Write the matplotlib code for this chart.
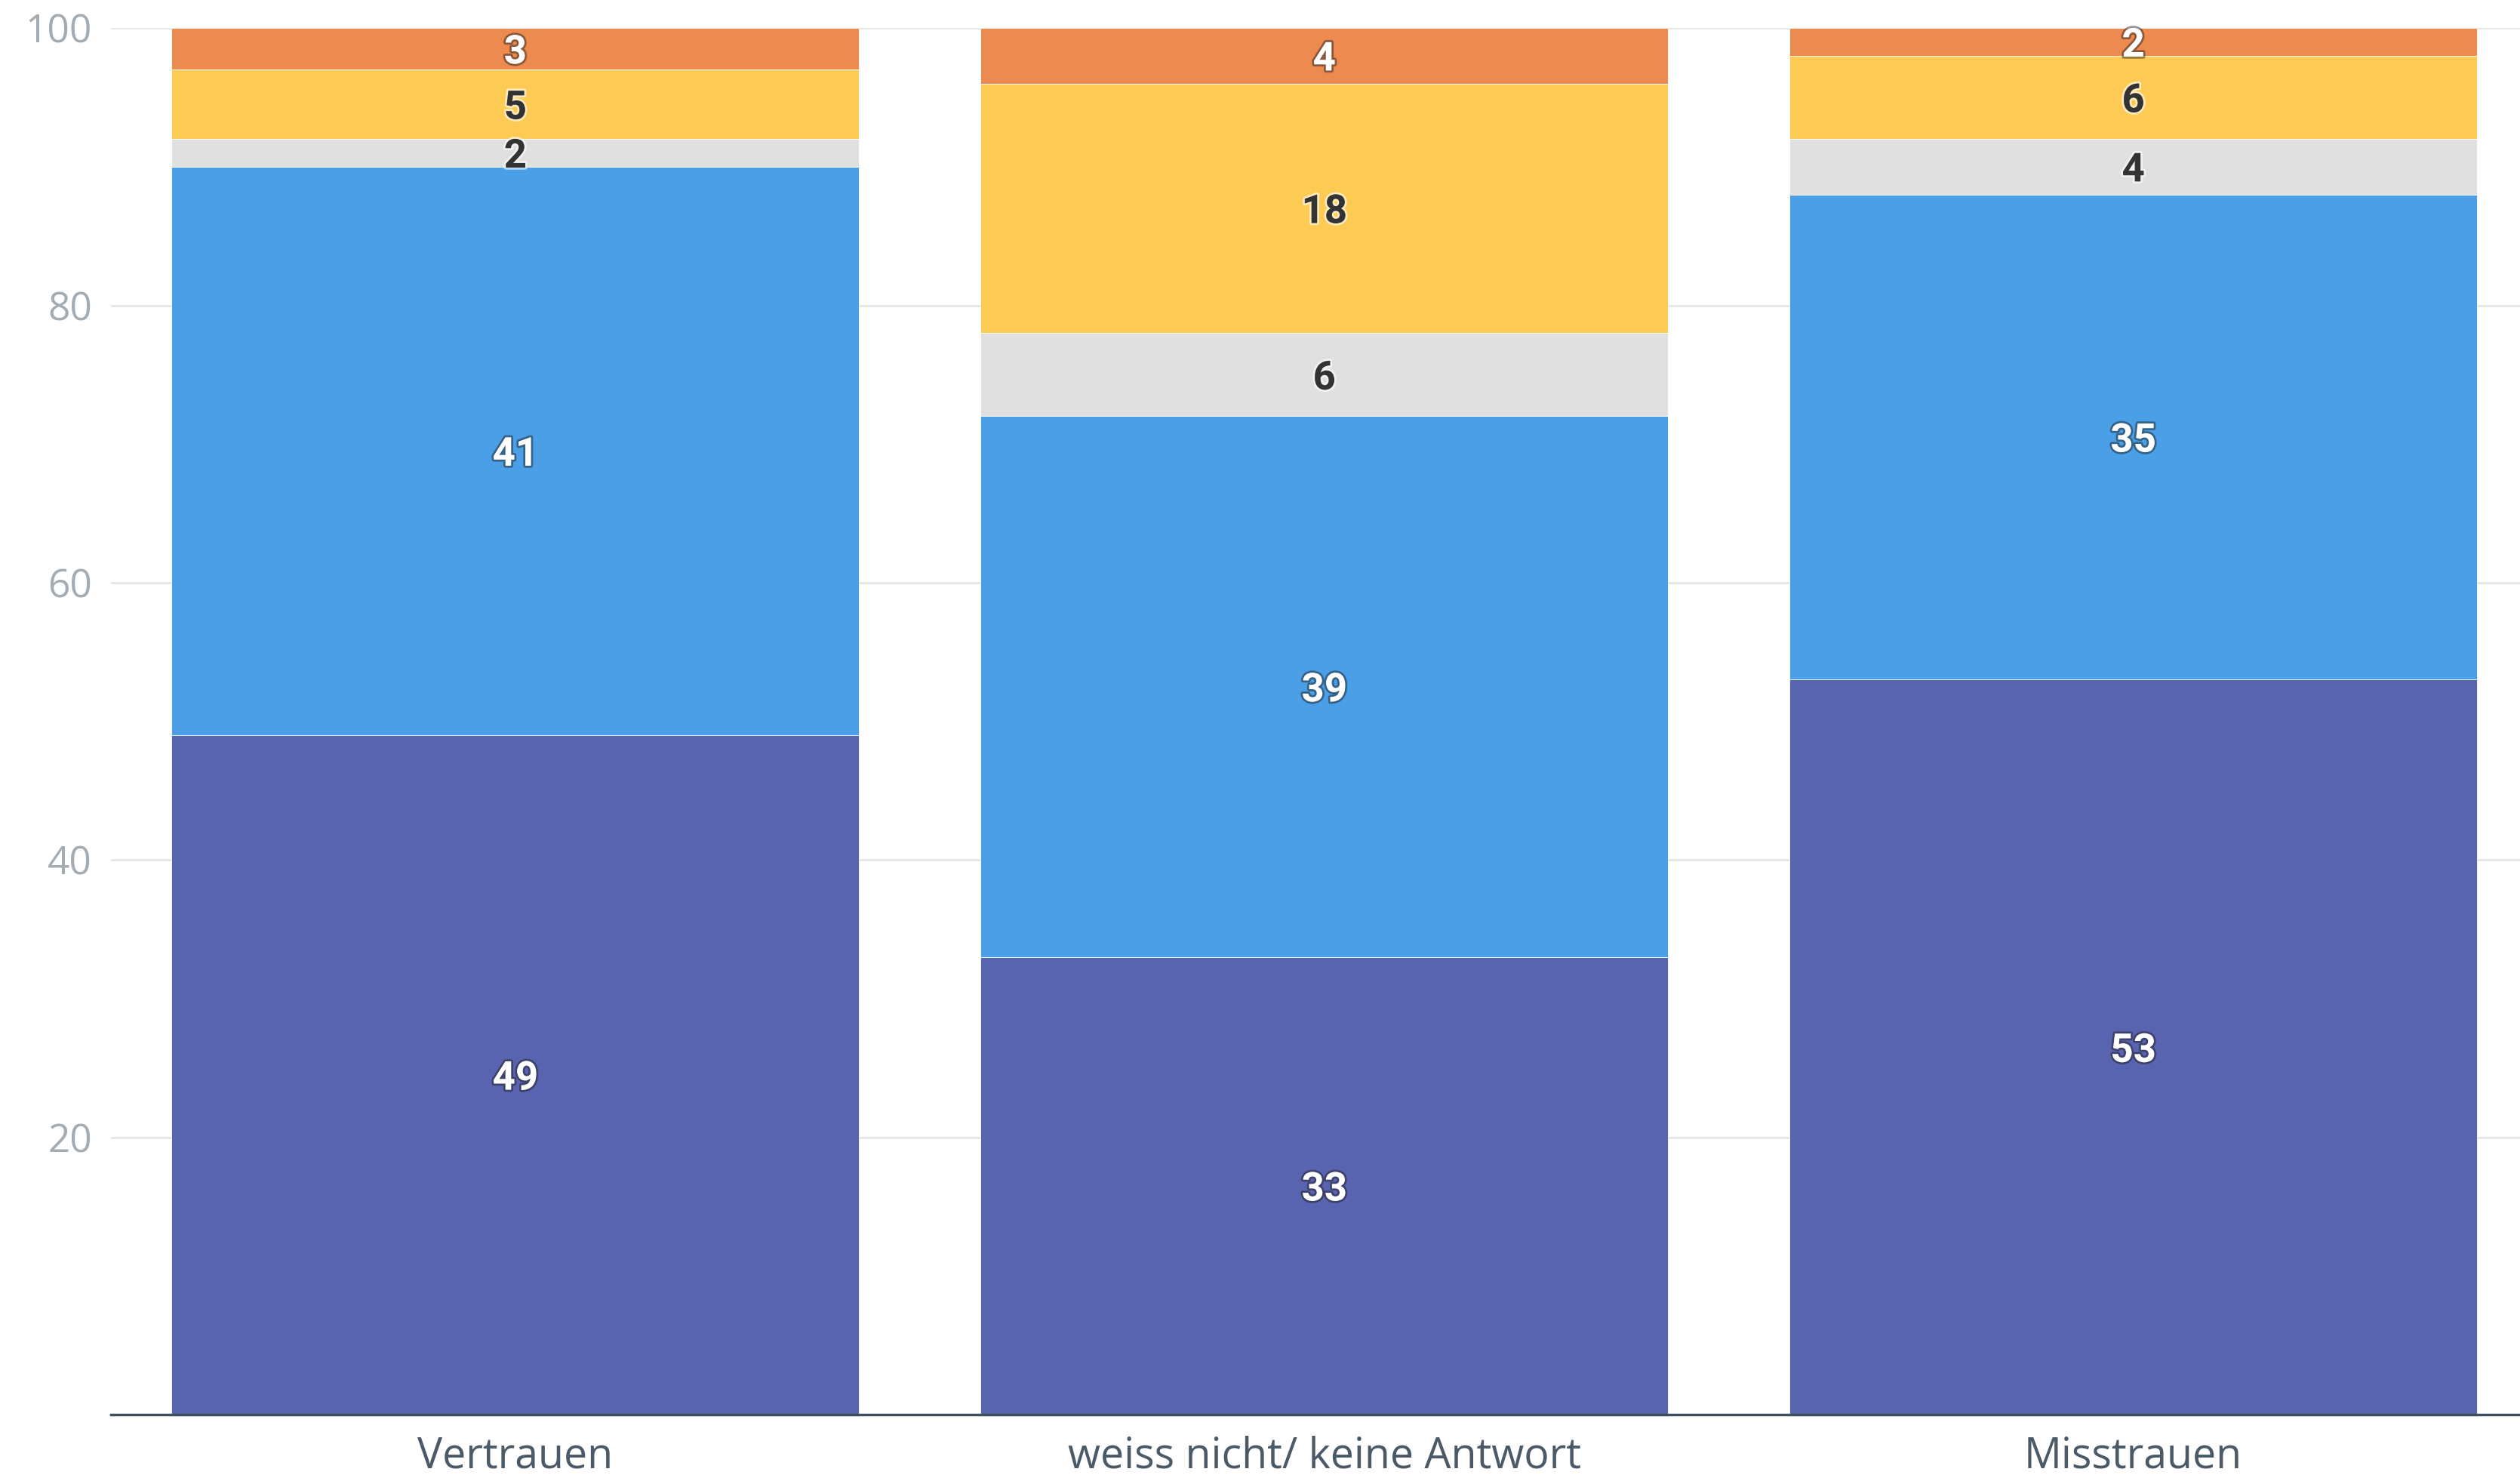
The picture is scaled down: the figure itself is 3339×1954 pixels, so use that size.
import matplotlib
matplotlib.use("Agg")
import matplotlib.pyplot as plt
import matplotlib.patheffects as pe
import matplotlib.transforms as mtransforms
import numpy as np

categories = ["Vertrauen", "weiss nicht/ keine Antwort", "Misstrauen"]
# series from bottom to top
s1 = [49, 33, 53]
s2 = [41, 39, 35]
s3 = [2, 6, 4]
s4 = [5, 18, 6]
s5 = [3, 4, 2]
series = [s1, s2, s3, s4, s5]
colors = ["#5964b0", "#4a9fe6", "#e0e0e0", "#fdcb54", "#ed8a4f"]
label_dark = [False, False, True, True, False]
yticks = [20, 40, 60, 80, 100]

fig = plt.figure(figsize=(33.39, 19.54), dpi=100)
ax = fig.add_axes([0.044, 0.0409, 0.956, 0.9401])
x = np.arange(len(categories))
bottom = np.zeros(len(categories))
shift = mtransforms.offset_copy(ax.transData, fig=fig, x=0, y=-5, units="dots")
for vals, col, dark in zip(series, colors, label_dark):
    vals = np.array(vals, dtype=float)
    ax.bar(x, vals, bottom=bottom, width=0.85, color=col, edgecolor="white",
           linewidth=0.6, zorder=3)
    for xi, b, v in zip(x, bottom, vals):
        if dark:
            t = ax.text(xi, b + v / 2, f"{int(v)}", ha="center", va="center",
                        fontsize=38, fontweight="bold", color="#333333",
                        family=["Roboto", "DejaVu Sans"], zorder=5, transform=shift)
            t.set_path_effects([pe.withStroke(linewidth=4, foreground=(1, 1, 1, 0.6))])
        else:
            t = ax.text(xi, b + v / 2, f"{int(v)}", ha="center", va="center",
                        fontsize=38, fontweight="bold", color="white",
                        family=["Roboto", "DejaVu Sans"], zorder=5, transform=shift)
            t.set_path_effects([pe.withStroke(linewidth=4, foreground=(0.1, 0.1, 0.1, 0.45))])
    bottom += vals

ax.set_xlim(-0.5, 2.478)
ax.set_ylim(0, 100)
ax.set_yticks(yticks)
ax.set_yticklabels([str(v) for v in yticks], family="Open Sans", fontsize=37, color="#a3abb3")
ax.set_xticks(x)
ax.set_xticklabels(categories, family="Open Sans", fontsize=40, color="#4a5a68")
ax.tick_params(axis="y", length=0, pad=18)
ax.tick_params(axis="x", length=0, pad=20)
ax.grid(axis="y", color="#e6e6e6", linewidth=2, zorder=0)
for sp in ["top", "right", "left"]:
    ax.spines[sp].set_visible(False)
ax.spines["bottom"].set_color("#3d4f5e")
ax.spines["bottom"].set_linewidth(2.5)
ax.spines["bottom"].set_zorder(6)
ax.set_axisbelow(True)

fig.savefig("out.png", dpi=100, facecolor="white")
